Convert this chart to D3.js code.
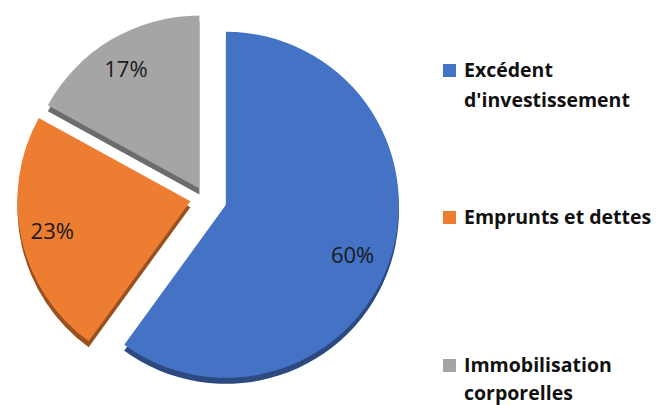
<!DOCTYPE html>
<html>
<head>
<meta charset="utf-8">
<script src="https://cdn.jsdelivr.net/npm/d3@7"></script>
<style>
  body { margin: 0; background: #fff; }
  svg { display: block; }
</style>
</head>
<body>
<svg width="663" height="405"></svg>
<script>
/* Daten */
const categories = ["Excédent d'investissement", "Emprunts et dettes", "Immobilisation corporelles"];
const legendLines = [["Excédent", "d'investissement"], ["Emprunts et dettes"], ["Immobilisation", "corporelles"]];
const values = [60, 23, 17];
const colors = ["#4472C4", "#ED7D31", "#A5A5A5"];
const explode = [22, 15, 11];

/* Optionen */
const width   = 663;
const height  = 405;
const cx      = 205;
const cy      = 198;
const radius  = 173;
const font    = "'Open Sans', 'DejaVu Sans', sans-serif";

const svg = d3.select("svg");

const pie = d3.pie().sort(null).value(d => d);
const arcs = pie(values);

const arc = d3.arc().innerRadius(0).outerRadius(radius);
const labelArc = d3.arc().innerRadius(radius * 0.8).outerRadius(radius * 0.8);

function offset(d, i) {
  const a = (d.startAngle + d.endAngle) / 2;
  return [cx + Math.sin(a) * explode[i], cy - Math.cos(a) * explode[i]];
}

const slices = svg.append("g").selectAll("g")
  .data(arcs)
  .enter().append("g")
    .attr("transform", (d, i) => "translate(" + offset(d, i) + ")");

// dunkler Rand (3D)
slices.append("path")
  .attr("d", arc)
  .attr("transform", "translate(0,6)")
  .attr("fill", (d, i) => d3.color(colors[i]).darker(1.2));

slices.append("path")
  .attr("d", arc)
  .attr("fill", (d, i) => colors[i]);

slices.append("text")
  .attr("transform", d => "translate(" + labelArc.centroid(d) + ")")
  .attr("x", (d, i) => i === 0 ? -5 : -3)
  .attr("y", (d, i) => i === 0 ? 8 : 0)
  .attr("text-anchor", "middle")
  .attr("dy", "0.35em")
  .style("font-family", font)
  .style("font-size", "22px")
  .style("fill", "#1a1a1a")
  .text(d => Math.round(d.data) + "%");

/* Legende */
const legendY = [70, 217, 365];
const legend = svg.append("g").selectAll("g")
  .data(categories)
  .enter().append("g")
    .attr("transform", (d, i) => "translate(443," + legendY[i] + ")");

legend.append("rect")
  .attr("x", 0)
  .attr("y", -6)
  .attr("width", 13)
  .attr("height", 13)
  .attr("fill", (d, i) => colors[i]);

legend.each(function(d, i) {
  const g = d3.select(this);
  legendLines[i].forEach((line, j) => {
    g.append("text")
      .attr("x", 21)
      .attr("y", j * (i === 2 ? 28 : 30))
      .attr("dy", "0.35em")
      .style("font-family", font)
      .style("font-size", "19.5px")
      .style("font-weight", 700)
      .style("fill", "#111")
      .text(line);
  });
});
</script>
</body>
</html>
